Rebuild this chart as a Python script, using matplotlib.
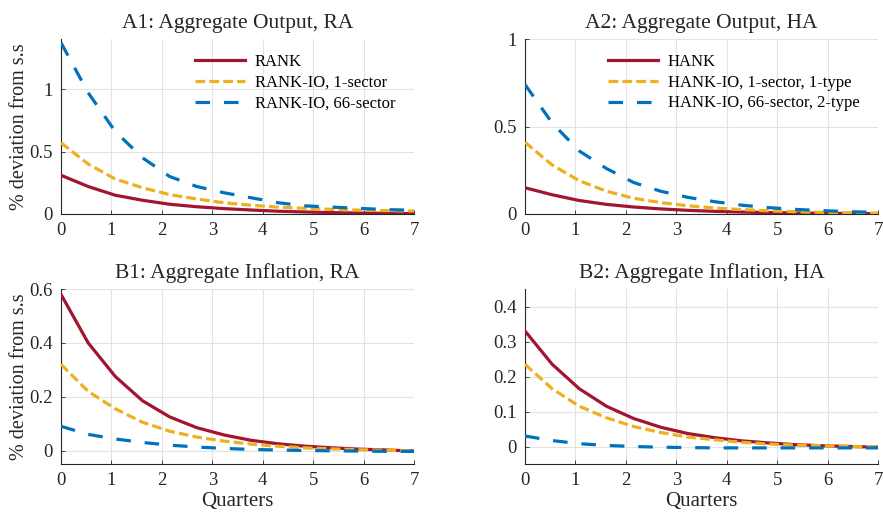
import numpy as np
import matplotlib
matplotlib.use("Agg")
import matplotlib.pyplot as plt
from matplotlib.ticker import FuncFormatter

plt.rcParams['font.family'] = ['Liberation Serif', 'DejaVu Serif']
plt.rcParams['lines.scale_dashes'] = False

# horizon in quarters (14 points from 0 to 7)
quarters = np.linspace(0, 7, 14)

# A1: aggregate output, representative agent
a1_rank = [0.31, 0.22, 0.15, 0.11, 0.078, 0.058, 0.043, 0.032, 0.022, 0.016, 0.011, 0.008, 0.005, 0.003]
a1_io1 = [0.57, 0.40, 0.28, 0.21, 0.155, 0.12, 0.09, 0.07, 0.055, 0.045, 0.037, 0.031, 0.027, 0.024]
a1_io66 = [1.37, 0.97, 0.66, 0.45, 0.30, 0.22, 0.17, 0.13, 0.09, 0.065, 0.055, 0.045, 0.035, 0.03]

# A2: aggregate output, heterogeneous agents
a2_hank = [0.15, 0.11, 0.077, 0.055, 0.04, 0.029, 0.021, 0.015, 0.011, 0.008, 0.006, 0.004, 0.003, 0.002]
a2_io1 = [0.41, 0.28, 0.19, 0.13, 0.09, 0.065, 0.047, 0.034, 0.025, 0.018, 0.013, 0.009, 0.007, 0.005]
a2_io66 = [0.74, 0.52, 0.36, 0.26, 0.18, 0.13, 0.095, 0.07, 0.05, 0.036, 0.026, 0.019, 0.013, 0.009]

# B1: aggregate inflation, representative agent
b1_rank = [0.58, 0.40, 0.275, 0.185, 0.125, 0.085, 0.058, 0.038, 0.025, 0.016, 0.01, 0.005, 0.002, -0.002]
b1_io1 = [0.32, 0.22, 0.155, 0.105, 0.072, 0.05, 0.035, 0.024, 0.016, 0.01, 0.006, 0.003, 0.001, -0.001]
b1_io66 = [0.09, 0.06, 0.043, 0.03, 0.02, 0.013, 0.008, 0.004, 0.002, 0.0, -0.001, -0.002, -0.003, -0.003]

# B2: aggregate inflation, heterogeneous agents
b2_hank = [0.33, 0.235, 0.165, 0.115, 0.08, 0.055, 0.037, 0.025, 0.016, 0.01, 0.005, 0.002, 0.0, -0.002]
b2_io1 = [0.235, 0.165, 0.115, 0.082, 0.057, 0.04, 0.027, 0.019, 0.012, 0.007, 0.004, 0.002, 0.0, -0.001]
b2_io66 = [0.03, 0.017, 0.008, 0.003, 0.0, -0.002, -0.003, -0.004, -0.004, -0.004, -0.004, -0.004, -0.004, -0.004]

ra_labels = ["RANK", "RANK-IO, 1-sector", "RANK-IO, 66-sector"]
ha_labels = ["HANK", "HANK-IO, 1-sector, 1-type", "HANK-IO, 66-sector, 2-type"]

RED = "#A2142F"
YELLOW = "#EDB120"
BLUE = "#0072BD"
LW = 2.3

fig = plt.figure(figsize=(8.83, 5.12), dpi=100)
W, H = 883, 512


def make_axes(left, top, right, bottom):
    return fig.add_axes([left / W, (H - bottom) / H, (right - left) / W, (bottom - top) / H])


ax_a1 = make_axes(61, 39, 414, 214)
ax_a2 = make_axes(525, 39, 878, 214)
ax_b1 = make_axes(61, 289, 414, 464)
ax_b2 = make_axes(525, 289, 878, 464)

panels = [
    (ax_a1, "A1: Aggregate Output, RA", (a1_rank, a1_io1, a1_io66), ra_labels, (0, 1.4), [0, 0.5, 1], True),
    (ax_a2, "A2: Aggregate Output, HA", (a2_hank, a2_io1, a2_io66), ha_labels, (0, 1), [0, 0.5, 1], True),
    (ax_b1, "B1: Aggregate Inflation, RA", (b1_rank, b1_io1, b1_io66), None, (-0.05, 0.6), [0, 0.2, 0.4, 0.6], False),
    (ax_b2, "B2: Aggregate Inflation, HA", (b2_hank, b2_io1, b2_io66), None, (-0.05, 0.45), [0, 0.1, 0.2, 0.3, 0.4], False),
]

fmt = FuncFormatter(lambda v, p: "%g" % round(v, 3))

for ax, title, series, labels, ylim, yticks, top_row in panels:
    base, io1, io66 = series
    lbls = labels if labels else [None] * 3
    ax.plot(quarters, base, color=RED, lw=LW, label=lbls[0], zorder=3)
    ax.plot(quarters, io1, color=YELLOW, lw=LW, dashes=(7, 3), label=lbls[1], zorder=4)
    ax.plot(quarters, io66, color=BLUE, lw=LW, dashes=(10.5, 10), label=lbls[2], zorder=5)

    ax.set_xlim(0, 7)
    ax.set_ylim(*ylim)
    ax.set_xticks(range(8))
    ax.set_yticks(yticks)
    ax.xaxis.set_major_formatter(fmt)
    ax.yaxis.set_major_formatter(fmt)
    ax.grid(True, color="#e3e3e3", lw=0.8)
    ax.set_axisbelow(True)
    for s in ("top", "right"):
        ax.spines[s].set_visible(False)
    for s in ("left", "bottom"):
        ax.spines[s].set_color("#262626")
        ax.spines[s].set_linewidth(0.8)
    ax.tick_params(direction="in", length=3, width=0.6, color="#262626",
                   labelsize=13.5, labelcolor="#262626", pad=6)
    ax.set_title(title, fontsize=15.5, color="#262626", pad=8)
    if not top_row:
        ax.set_xlabel("Quarters", fontsize=15, color="#262626", labelpad=2)
    if labels:
        ax.legend(loc="upper right", frameon=False, fontsize=12, handlelength=3.0,
                  handletextpad=0.6, labelspacing=0.28, borderaxespad=0.4,
                  bbox_to_anchor=(0.985, 0.99))

for ax in (ax_a1, ax_b1):
    ax.set_ylabel("% deviation from s.s", fontsize=14.5, color="#262626", labelpad=0)

fig.savefig("out.png", dpi=100)
